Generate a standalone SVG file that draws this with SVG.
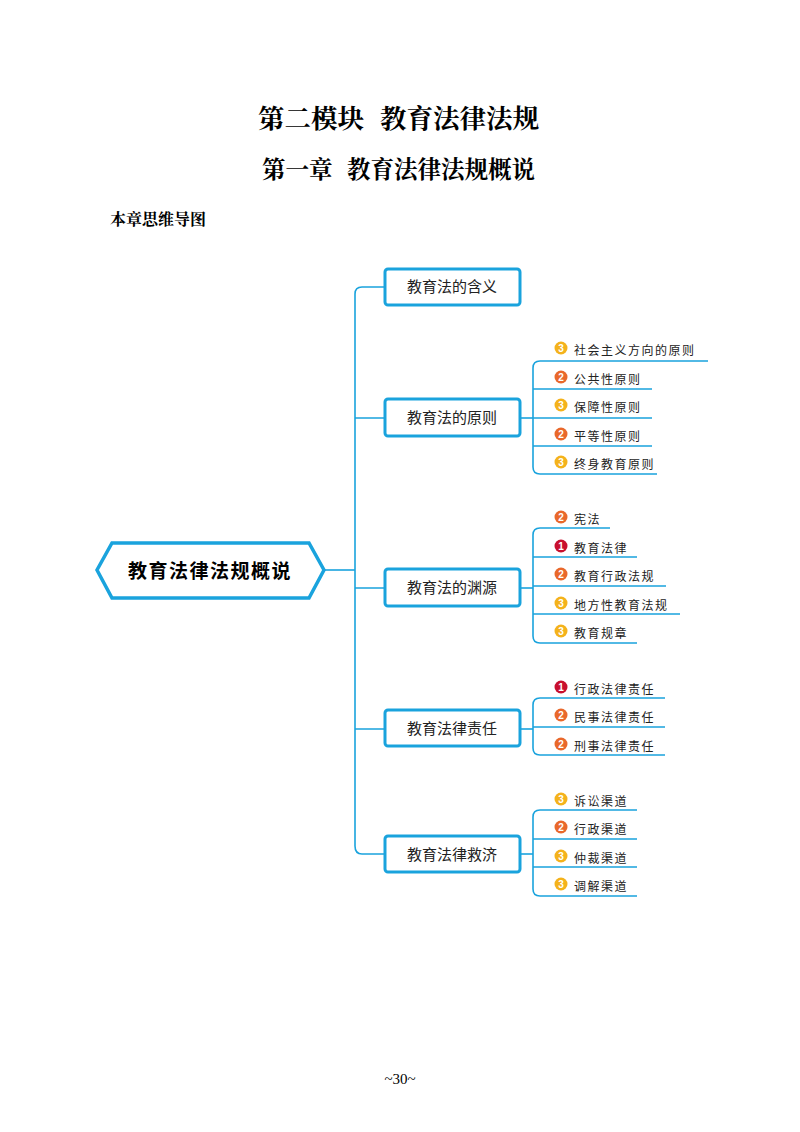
<svg xmlns="http://www.w3.org/2000/svg" width="800" height="1132" viewBox="0 0 800 1132">
<style>
.t{font-family:"Noto Serif CJK SC","Noto Sans CJK SC",serif;font-weight:bold;fill:#000}
.c{fill:none;stroke:#1aa3dd;stroke-width:1.6}
.box{fill:#fff;stroke:#1aa3dd;stroke-width:3}
.bt{font-family:"Noto Sans CJK SC",sans-serif;font-size:15px;fill:#222;text-anchor:middle}
.lt{font-family:"Noto Sans CJK SC",sans-serif;font-size:12px;fill:#222;letter-spacing:1.5px}
.bn{font-family:"Liberation Sans",sans-serif;font-size:10px;font-weight:bold;fill:#fff;text-anchor:middle}
.b3{fill:#f4b21b}.b2{fill:#e9682b}.b1{fill:#c8102e}
</style>
<rect width="800" height="1132" fill="#fff"/>
<text class="t" y="128" font-size="26.5"><tspan x="258">第二模块</tspan><tspan x="380">教育法律法规</tspan></text>
<text class="t" y="178" font-size="23.5"><tspan x="262">第一章</tspan><tspan x="347">教育法律法规概说</tspan></text>
<text class="t" x="110" y="225" font-size="16">本章思维导图</text>
<g id="connectors">
<path class="c" d="M325 570H355"/>
<path class="c" d="M385 287H362Q355 287 355 294V846Q355 854 362 854H385"/>
<path class="c" d="M355 418H385M355 588H385M355 729H385"/>
<path class="c" d="M520 418H533"/>
<path class="c" d="M708 361H540Q533 361 533 368V467Q533 474 540 474H657M533 389H652M533 418H652M533 446H652"/>
<path class="c" d="M520 588H533"/>
<path class="c" d="M610 528H540Q533 528 533 535V636Q533 643 540 643H637M533 557H637M533 586H666M533 614H680"/>
<path class="c" d="M520 729H533"/>
<path class="c" d="M665 698H540Q533 698 533 705V748Q533 755 540 755H665M533 727H665"/>
<path class="c" d="M520 854H533"/>
<path class="c" d="M637 810H540Q533 810 533 817V889Q533 896 540 896H637M533 839H637M533 867H637"/>
</g>
<g id="root">
<polygon points="112,543 309,543 324,570 309,598 112,598 97,570" fill="#fff" stroke="#1aa3dd" stroke-width="3.5"/>
<text x="210" y="578" font-family="Noto Sans CJK SC,sans-serif" font-size="19" font-weight="bold" text-anchor="middle" letter-spacing="1.5">教育法律法规概说</text>
</g>
<g id="n1"><rect class="box" x="385" y="269" width="135" height="36" rx="3"/><text class="bt" x="452" y="292">教育法的含义</text></g>
<g id="n2"><rect class="box" x="385" y="399" width="135" height="37" rx="3"/><text class="bt" x="452" y="423">教育法的原则</text></g>
<g id="n3"><rect class="box" x="385" y="569" width="135" height="37" rx="3"/><text class="bt" x="452" y="593">教育法的渊源</text></g>
<g id="n4"><rect class="box" x="385" y="710" width="135" height="36" rx="3"/><text class="bt" x="452" y="734">教育法律责任</text></g>
<g id="n5"><rect class="box" x="385" y="836" width="135" height="36" rx="3"/><text class="bt" x="452" y="860">教育法律救济</text></g>
<g id="leaves">
<circle class="b3" cx="561" cy="348" r="6.5"/><text class="bn" x="561" y="352">3</text><text class="lt" x="574" y="355">社会主义方向的原则</text>
<circle class="b2" cx="561" cy="377" r="6.5"/><text class="bn" x="561" y="381">2</text><text class="lt" x="574" y="384">公共性原则</text>
<circle class="b3" cx="561" cy="405" r="6.5"/><text class="bn" x="561" y="409">3</text><text class="lt" x="574" y="412">保障性原则</text>
<circle class="b2" cx="561" cy="434" r="6.5"/><text class="bn" x="561" y="438">2</text><text class="lt" x="574" y="441">平等性原则</text>
<circle class="b3" cx="561" cy="462" r="6.5"/><text class="bn" x="561" y="466">3</text><text class="lt" x="574" y="469">终身教育原则</text>

<circle class="b2" cx="561" cy="517" r="6.5"/><text class="bn" x="561" y="521">2</text><text class="lt" x="574" y="524">宪法</text>
<circle class="b1" cx="561" cy="546" r="6.5"/><text class="bn" x="561" y="550">1</text><text class="lt" x="574" y="553">教育法律</text>
<circle class="b2" cx="561" cy="574" r="6.5"/><text class="bn" x="561" y="578">2</text><text class="lt" x="574" y="581">教育行政法规</text>
<circle class="b3" cx="561" cy="603" r="6.5"/><text class="bn" x="561" y="607">3</text><text class="lt" x="574" y="610">地方性教育法规</text>
<circle class="b3" cx="561" cy="631" r="6.5"/><text class="bn" x="561" y="635">3</text><text class="lt" x="574" y="638">教育规章</text>

<circle class="b1" cx="561" cy="687" r="6.5"/><text class="bn" x="561" y="691">1</text><text class="lt" x="574" y="694">行政法律责任</text>
<circle class="b2" cx="561" cy="715" r="6.5"/><text class="bn" x="561" y="719">2</text><text class="lt" x="574" y="722">民事法律责任</text>
<circle class="b2" cx="561" cy="744" r="6.5"/><text class="bn" x="561" y="748">2</text><text class="lt" x="574" y="751">刑事法律责任</text>

<circle class="b3" cx="561" cy="799" r="6.5"/><text class="bn" x="561" y="803">3</text><text class="lt" x="574" y="806">诉讼渠道</text>
<circle class="b2" cx="561" cy="827" r="6.5"/><text class="bn" x="561" y="831">2</text><text class="lt" x="574" y="834">行政渠道</text>
<circle class="b3" cx="561" cy="856" r="6.5"/><text class="bn" x="561" y="860">3</text><text class="lt" x="574" y="863">仲裁渠道</text>
<circle class="b3" cx="561" cy="884" r="6.5"/><text class="bn" x="561" y="888">3</text><text class="lt" x="574" y="891">调解渠道</text>
</g>
<text x="400" y="1084" font-family="Liberation Serif,serif" font-size="15" text-anchor="middle">~30~</text>
</svg>
